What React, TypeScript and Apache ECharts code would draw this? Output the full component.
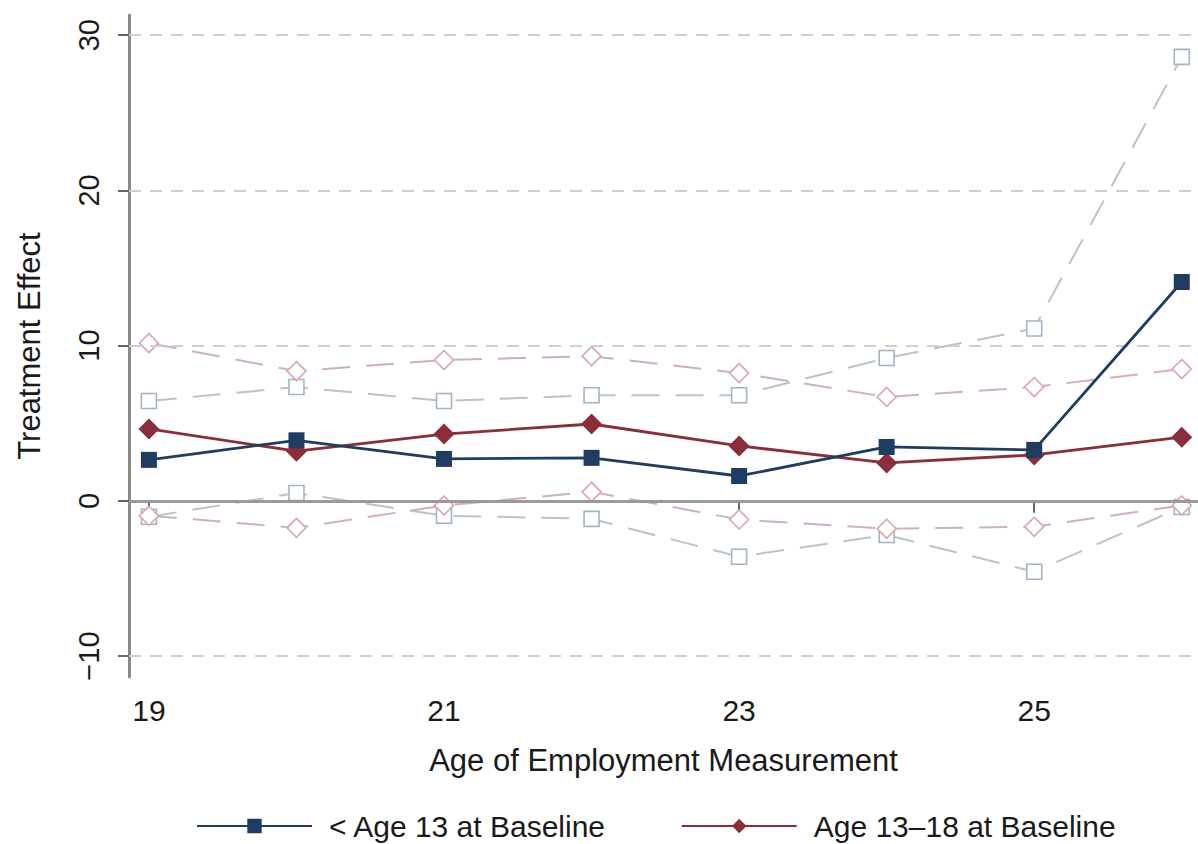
import React, { useEffect, useRef } from "react";
import * as echarts from "echarts";

const ages = [19, 20, 21, 22, 23, 24, 25, 26];
const youngEffect = [2.64, 3.9, 2.7, 2.77, 1.6, 3.47, 3.28, 14.1];
const youngUpper = [6.43, 7.33, 6.43, 6.8, 6.8, 9.2, 11.1, 28.6];
const youngLower = [-1.03, 0.5, -0.96, -1.16, -3.6, -2.2, -4.57, -0.4];
const olderEffect = [4.63, 3.2, 4.3, 4.95, 3.54, 2.44, 2.96, 4.1];
const olderUpper = [10.16, 8.36, 9.07, 9.32, 8.23, 6.69, 7.33, 8.49];
const olderLower = [-0.96, -1.74, -0.3, 0.58, -1.2, -1.8, -1.67, -0.3];
const xTicks = [19, 21, 23, 25];
const yTicks = [-10, 0, 10, 20, 30];
const dashedGrid = [-10, 10, 20, 30];

const FONT = "'Liberation Sans', Arial, Helvetica, sans-serif";
const NAVY = "#1f3d63";
const MAROON = "#8c2d3a";
const CI_BLUE_LINE = "#b9c3cd";
const CI_BLUE_MARK = "#a3b4c6";
const CI_RED_LINE = "#cdb3b6";
const CI_RED_MARK = "#d8a5ab";

const pairs = (ys: number[]) => ages.map((a, i) => [a, ys[i]]);

export default function App() {
  const ref = useRef<HTMLDivElement>(null);
  useEffect(() => {
    if (!ref.current) return;
    const chart = echarts.init(ref.current, undefined, { renderer: "svg" });
    const ciSeries = (name: string, data: number[], lineColor: string, markColor: string, symbol: string, size: number) => ({
      name,
      type: "line",
      data: pairs(data),
      symbol,
      symbolSize: size,
      z: 2,
      lineStyle: { color: lineColor, width: 2, type: [28, 16] },
      itemStyle: { color: "#ffffff", borderColor: markColor, borderWidth: 1.6 },
      clip: false,
    });
    chart.setOption({
      animation: false,
      backgroundColor: "#ffffff",
      textStyle: { fontFamily: FONT },
      grid: { left: 129, right: 0, top: 15, bottom: 167 },
      legend: {
        data: ["< Age 13 at Baseline", "Age 13–18 at Baseline"],
        left: 196,
        top: 810,
        padding: 0,
        itemWidth: 115,
        itemHeight: 18,
        itemGap: 74,
        textStyle: { fontFamily: FONT, fontSize: 30, lineHeight: 32, color: "#1a1a1a", padding: [0, 0, 0, 12] },
      },
      xAxis: {
        type: "value",
        min: 18.865,
        max: 26.11,
        name: "Age of Employment Measurement",
        nameLocation: "middle",
        nameGap: 68,
        nameTextStyle: { fontFamily: FONT, fontSize: 31, color: "#1a1a1a" },
        axisLine: { show: true, lineStyle: { color: "#8a8a8a", width: 3 } },
        axisTick: { show: true, length: 12, customValues: xTicks, lineStyle: { color: "#666", width: 2 } },
        axisLabel: { customValues: xTicks, fontFamily: FONT, fontSize: 30, color: "#1a1a1a", margin: 18 },
        splitLine: { show: false },
      },
      yAxis: {
        type: "value",
        min: -11.35,
        max: 31.3,
        name: "Treatment Effect",
        nameLocation: "middle",
        nameGap: 84,
        nameRotate: 90,
        nameTextStyle: { fontFamily: FONT, fontSize: 31, color: "#1a1a1a" },
        axisLine: { show: true, lineStyle: { color: "#8a8a8a", width: 3 } },
        axisTick: { show: true, length: 11, customValues: yTicks, lineStyle: { color: "#666", width: 2 } },
        axisLabel: {
          customValues: yTicks,
          rotate: 90,
          fontFamily: FONT,
          fontSize: 29,
          color: "#1a1a1a",
          margin: 26,
          formatter: (v: number) => String(v).replace("-", "\u2212"),
        },
        splitLine: { show: false },
      },
      series: [
        {
          name: "gridlines",
          type: "line",
          data: [],
          z: 1,
          markLine: {
            silent: true,
            symbol: "none",
            label: { show: false },
            data: [
              ...dashedGrid.map((v) => ({ yAxis: v, lineStyle: { color: "#cfcfcf", width: 2, type: [12, 9] } })),
              { yAxis: 0, lineStyle: { color: "#9a9a9a", width: 3, type: "solid" } },
            ],
          },
        },
        ciSeries("< Age 13 upper", youngUpper, CI_BLUE_LINE, CI_BLUE_MARK, "rect", 15),
        ciSeries("< Age 13 lower", youngLower, CI_BLUE_LINE, CI_BLUE_MARK, "rect", 15),
        ciSeries("Age 13–18 upper", olderUpper, CI_RED_LINE, CI_RED_MARK, "diamond", 19),
        ciSeries("Age 13–18 lower", olderLower, CI_RED_LINE, CI_RED_MARK, "diamond", 19),
        {
          name: "< Age 13 at Baseline",
          type: "line",
          data: pairs(youngEffect),
          symbol: "rect",
          symbolSize: 16,
          z: 5,
          clip: false,
          lineStyle: { color: NAVY, width: 2.8 },
          itemStyle: { color: NAVY },
        },
        {
          name: "Age 13–18 at Baseline",
          type: "line",
          data: pairs(olderEffect),
          symbol: "diamond",
          symbolSize: 21,
          z: 4,
          clip: false,
          lineStyle: { color: MAROON, width: 2.8 },
          itemStyle: { color: MAROON },
        },
      ],
    });
    return () => chart.dispose();
  }, []);
  return (
    <div
      ref={ref}
      style={{ position: "fixed", left: 0, top: 0, width: 1198, height: 844, background: "#fff" }}
    />
  );
}
